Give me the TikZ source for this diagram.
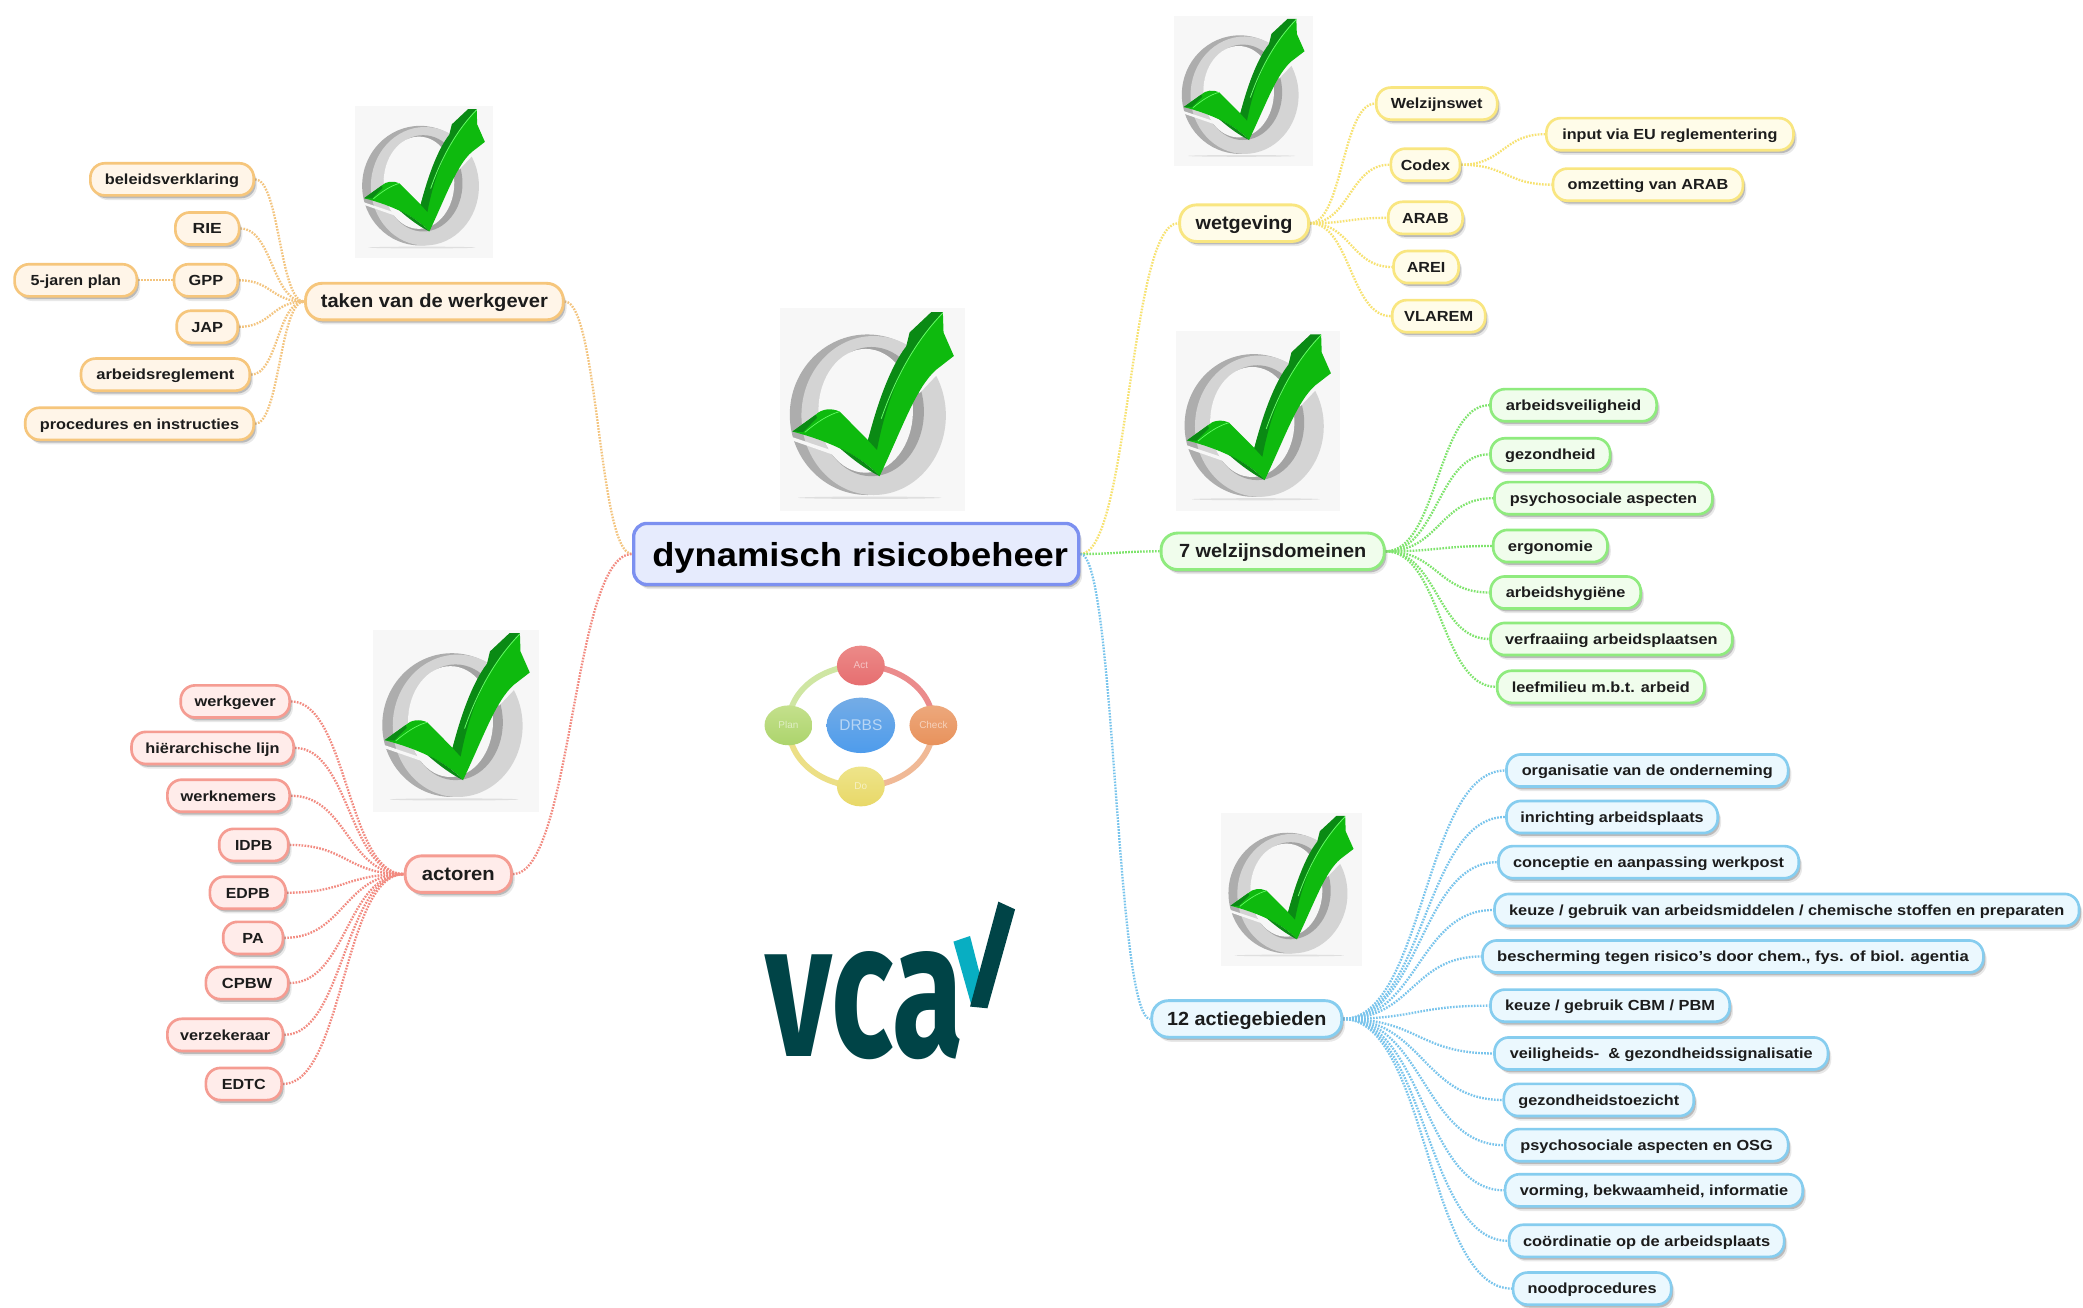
\documentclass[tikz,border=0pt]{standalone}
\usepackage{fontspec}
\setmainfont{Liberation Sans}
\newfontfamily\vcafont{Fira Sans}
\usetikzlibrary{shadows,shapes.geometric,backgrounds,calc}
\definecolor{iconbg}{HTML}{F7F7F7}
\definecolor{chk}{HTML}{0EBA0E}
\definecolor{chkd}{HTML}{0A8A14}
\definecolor{inktxt}{HTML}{1C1C1C}
\definecolor{oS}{HTML}{F6C67C}\definecolor{oF}{HTML}{FFF5E8}\definecolor{oL}{HTML}{F3C47E}
\definecolor{rS}{HTML}{F59C92}\definecolor{rF}{HTML}{FFECEA}\definecolor{rL}{HTML}{F28A80}
\definecolor{yS}{HTML}{F9E680}\definecolor{yF}{HTML}{FFFCE9}\definecolor{yL}{HTML}{F7E270}
\definecolor{gS}{HTML}{8FEB7E}\definecolor{gF}{HTML}{F0FDEC}\definecolor{gL}{HTML}{7EE46C}
\definecolor{bS}{HTML}{86CDEF}\definecolor{bF}{HTML}{EBF8FE}\definecolor{bL}{HTML}{78C4EC}
\definecolor{cS}{HTML}{7C90F0}\definecolor{cF}{HTML}{E6EBFD}
\definecolor{vcad}{HTML}{004447}
\definecolor{vcac}{HTML}{08AEC2}
\definecolor{actT}{HTML}{EC8A88}\definecolor{actB}{HTML}{E66E70}
\definecolor{chkT}{HTML}{EDA87C}\definecolor{chkB}{HTML}{E8925C}
\definecolor{doT}{HTML}{EEE48A}\definecolor{doB}{HTML}{E8D868}
\definecolor{plaT}{HTML}{C4E08C}\definecolor{plaB}{HTML}{ACD46C}
\definecolor{drbT}{HTML}{74ACE6}\definecolor{drbB}{HTML}{4E9CEC}
\tikzset{
  softshadow/.style={
    drop shadow={shadow xshift=1.5pt,shadow yshift=-2.1pt,fill=gray,opacity=.18},
    drop shadow={shadow xshift=.9pt,shadow yshift=-1.3pt,fill=gray!80!black,opacity=.35}},
  mapbox/.style={rounded corners=6.5pt,draw,line width=1.2pt,inner sep=0pt,minimum height=14.5pt,
    text height=5.4pt,text depth=.6pt,text=inktxt,font=\fontsize{6.6}{8}\selectfont\bfseries,softshadow},
  topbox/.style={mapbox,minimum height=16.5pt,rounded corners=7.5pt,line width=1.3pt,
    text height=7pt,text depth=1.2pt,font=\fontsize{8.6}{10}\selectfont\bfseries},
  obox/.style={mapbox,draw=oS,fill=oF}, otop/.style={topbox,draw=oS,fill=oF},
  rbox/.style={mapbox,draw=rS,fill=rF}, rtop/.style={topbox,draw=rS,fill=rF},
  ybox/.style={mapbox,draw=yS,fill=yF}, ytop/.style={topbox,draw=yS,fill=yF},
  gbox/.style={mapbox,draw=gS,fill=gF}, gtop/.style={topbox,draw=gS,fill=gF},
  bbox/.style={mapbox,draw=bS,fill=bF}, btop/.style={topbox,draw=bS,fill=bF},
  lk/.style={line width=1.05pt,dash pattern=on .75pt off .6pt},
  cbox/.style={rounded corners=6pt,draw=cS,fill=cF,line width=1.5pt,inner sep=0pt,minimum height=27.6pt,
    text height=12pt,text depth=.6pt,text=black,font=\fontsize{15}{18}\selectfont\bfseries,softshadow},
  ball/.style={ellipse,inner sep=0pt,minimum width=21.6pt,minimum height=18pt,text=white,text opacity=.55,font=\fontsize{4.5}{5}\selectfont},
  ringarc/.style={line width=2.6pt,opacity=.8},
  okicon/.pic={
    \begin{scope}[shift={(-120,-68)}]
      \fill[iconbg] (120,68) rectangle (675,587);
      \fill[gray!25] (390,552) ellipse [x radius=215,y radius=3];
      \fill[black!32] (383,340) ellipse [x radius=233,y radius=205];
      \fill[black!17] (402,342) ellipse [x radius=217,y radius=203];
      \fill[black!36] (395,332) ellipse [x radius=158,y radius=165];
      \fill[iconbg] (378,330) ellipse [x radius=142,y radius=158];
      \fill[iconbg] (505,165) -- (505,120) -- (660,120) -- (660,240) -- (590,240) -- (540,285) -- (490,200) -- cycle;
      \fill[iconbg] (150,395) -- (300,438) -- (300,448) -- (155,405) -- cycle;
      \fill[chk] (158,383) -- (228,340) .. controls (245,325) and (275,322) .. (300,332) -- (385,405)
        .. controls (420,300) and (470,200) .. (610,78) -- (612,130) -- (643,190) -- (590,225)
        .. controls (530,270) and (490,370) .. (420,497) .. controls (370,450) and (280,410) .. (158,383) -- cycle;
      \fill[chkd] (385,405) .. controls (410,320) and (450,220) .. (500,165) -- (510,130) -- (575,78) -- (610,78)
        .. controls (520,160) and (450,260) .. (412,430) -- cycle;
      \fill[chkd] (158,383) -- (228,340) -- (232,348) -- (190,384) -- cycle;
      \fill[chkd] (300,425) .. controls (350,445) and (390,470) .. (420,497) .. controls (380,480) and (340,455) .. (300,425) -- cycle;
      \draw[green!60!white,line width=.35pt] (610,80) .. controls (530,150) and (470,240) .. (425,350);
      \draw[green!60!white,line width=.3pt] (195,385) .. controls (230,360) and (265,340) .. (300,332);
    \end{scope}
  }
}
\newcommand\mapnode[7]{%
  \pgfmathsetlengthmacro\mapw{(#6)*0.6pt}%
  \node[#1,minimum width={(#4-#3)*0.6pt}] (#2) at ({(#3+#4)/2},#5) {\resizebox{\mapw}{\height}{#7}};}
\newcommand\hcurve[3]{\draw[lk,#1] let \p1=(#2),\p2=(#3),\p3=($(\p1)!.5!(\p2)$) in (\p1) .. controls (\x3,\y1) and (\x3,\y2) .. (\p2);}
\begin{document}
\begin{tikzpicture}[x=0.6pt,y=-0.6pt]
\useasboundingbox (0,0) rectangle (1568,984);

% check-mark pictures
\pic[xscale=.2505,yscale=.2948] at (587,232) {okicon};
\pic[xscale=.1874,yscale=.2197] at (267,80) {okicon};
\pic[xscale=.2252,yscale=.264] at (281,474) {okicon};
\pic[xscale=.1874,yscale=.2177] at (884,12) {okicon};
\pic[xscale=.2234,yscale=.262] at (885,249) {okicon};
\pic[xscale=.191,yscale=.2216] at (919,612) {okicon};

% centre
\node[cbox,minimum width=201pt] (root) at (644.5,417) {\hspace*{3.6pt}\resizebox{187.8pt}{\height}{dynamisch risicobeheer}};

% orange
\mapnode{otop}{taken}{230}{424}{227}{171}{taken van de werkgever}
\mapnode{obox}{bel}{68}{191}{135}{101}{beleidsverklaring}
\mapnode{obox}{rie}{132}{180}{172}{22}{RIE}
\mapnode{obox}{jaren}{11}{103}{211}{68}{5-jaren plan}
\mapnode{obox}{gpp}{131}{179}{211}{26}{GPP}
\mapnode{obox}{jap}{133}{179}{246}{24}{JAP}
\mapnode{obox}{arbr}{61}{188}{282}{104}{arbeidsreglement}
\mapnode{obox}{proc}{19}{191}{319}{150}{procedures en instructies}

% red
\mapnode{rtop}{act}{305}{385}{658}{55}{actoren}
\mapnode{rbox}{wg}{136}{218}{528}{61}{werkgever}
\mapnode{rbox}{hl}{99}{221}{563}{101}{hiërarchische lijn}
\mapnode{rbox}{wn}{126}{218}{599}{72}{werknemers}
\mapnode{rbox}{idpb}{165}{217}{636}{28}{IDPB}
\mapnode{rbox}{edpb}{158}{215}{672}{33}{EDPB}
\mapnode{rbox}{pa}{168}{213}{706}{16}{PA}
\mapnode{rbox}{cpbw}{155}{217}{740}{38}{CPBW}
\mapnode{rbox}{verz}{126}{213}{779}{68}{verzekeraar}
\mapnode{rbox}{edtc}{155}{212}{816}{33}{EDTC}

% yellow
\mapnode{ytop}{wet}{888}{985}{168}{73}{wetgeving}
\mapnode{ybox}{welz}{1036}{1127}{78}{69}{Welzijnswet}
\mapnode{ybox}{codex}{1047}{1099}{124}{37}{Codex}
\mapnode{ybox}{input}{1164}{1350}{101}{162}{input via EU reglementering}
\mapnode{ybox}{omz}{1169}{1312}{139}{121}{omzetting van ARAB}
\mapnode{ybox}{arab}{1045}{1101}{164}{35}{ARAB}
\mapnode{ybox}{arei}{1049}{1098}{201}{29}{AREI}
\mapnode{ybox}{vlarem}{1048}{1118}{238}{52}{VLAREM}

% green
\mapnode{gtop}{dom}{874}{1042}{415}{141}{7 welzijnsdomeinen}
\mapnode{gbox}{g1}{1122}{1247}{305}{102}{arbeidsveiligheid}
\mapnode{gbox}{g2}{1122}{1212}{342}{68}{gezondheid}
\mapnode{gbox}{g3}{1125}{1289}{375}{141}{psychosociale aspecten}
\mapnode{gbox}{g4}{1124}{1210}{411}{64}{ergonomie}
\mapnode{gbox}{g5}{1122}{1235}{446}{90}{arbeidshygiëne}
\mapnode{gbox}{g6}{1122}{1304}{481}{160}{verfraaiing arbeidsplaatsen}
\mapnode{gbox}{g7}{1127}{1283}{517}{134}{leefmilieu m.b.t. arbeid}

% blue
\mapnode{btop}{gebied}{867}{1010}{767}{120}{12 actiegebieden}
\mapnode{bbox}{b1}{1134}{1346}{580}{189}{organisatie van de onderneming}
\mapnode{bbox}{b2}{1134}{1293}{615}{138}{inrichting arbeidsplaats}
\mapnode{bbox}{b3}{1128}{1354}{649}{204}{conceptie en aanpassing werkpost}
\mapnode{bbox}{b4}{1125}{1565}{685}{418}{keuze / gebruik van arbeidsmiddelen / chemische stoffen en preparaten}
\mapnode{bbox}{b5}{1116}{1493}{720}{355}{bescherming tegen risico's door chem., fys. of biol. agentia}
\mapnode{bbox}{b6}{1122}{1302}{757}{158}{keuze / gebruik CBM / PBM}
\mapnode{bbox}{b7}{1125}{1376}{793}{228}{veiligheids-~ \& gezondheidssignalisatie}
\mapnode{bbox}{b8}{1132}{1275}{828}{121}{gezondheidstoezicht}
\mapnode{bbox}{b9}{1133}{1346}{862}{190}{psychosociale aspecten en OSG}
\mapnode{bbox}{b10}{1133}{1357}{896}{202}{vorming, bekwaamheid, informatie}
\mapnode{bbox}{b11}{1136}{1343}{934}{186}{coördinatie op de arbeidsplaats}
\mapnode{bbox}{b12}{1139}{1258}{970}{97}{noodprocedures}

% PDCA cycle
\node[ball,top color=actT,bottom color=actB] (pact) at (648,501) {Act};
\node[ball,top color=chkT,bottom color=chkB] (pcheck) at (702.6,546) {Check};
\node[ball,top color=doT,bottom color=doB] (pdo) at (648,592) {Do};
\node[ball,top color=plaT,bottom color=plaB] (pplan) at (593.5,546) {Plan};
\node[ellipse,inner sep=0pt,minimum width=31pt,minimum height=25pt,top color=drbT,bottom color=drbB,
  text=white,text opacity=.55,font=\fontsize{7}{8}\selectfont] (pdrbs) at (648,546) {DRBS};

% VCA logo
\node[inner sep=0pt,text=vcad,font=\vcafont\bfseries] (vca) at (651,757) {\resizebox{89.4pt}{47.4pt}{vca}};
\fill[vcac] (717.7,708.8) -- (730.2,704.6) -- (738,735) -- (731.5,757.7) -- cycle;
\fill[vcad] (751.5,678.7) -- (764.1,684.5) -- (743.3,759) -- (730.2,757.7) -- cycle;

% connectors
\begin{pgfonlayer}{background}
\fill[white] (0,0) rectangle (1568,984);
\foreach \c in {bel,rie,gpp,jap,arbr,proc} {\hcurve{oL}{\c.east}{taken.west}}
\draw[lk,oL] (jaren.east) -- (gpp.west);
\hcurve{oL}{taken.east}{root.west}
\foreach \c in {wg,hl,wn,idpb,edpb,pa,cpbw,verz,edtc} {\hcurve{rL}{\c.east}{act.west}}
\hcurve{rL}{act.east}{root.west}
\foreach \c in {welz,codex,arab,arei,vlarem} {\hcurve{yL}{wet.east}{\c.west}}
\foreach \c in {input,omz} {\hcurve{yL}{codex.east}{\c.west}}
\hcurve{yL}{root.east}{wet.west}
\foreach \c in {g1,g2,g3,g4,g5,g6,g7} {\hcurve{gL}{dom.east}{\c.west}}
\hcurve{gL}{root.east}{dom.west}
\foreach \c in {b1,b2,b3,b4,b5,b6,b7,b8,b9,b10,b11,b12} {\hcurve{bL}{gebied.east}{\c.west}}
\hcurve{bL}{root.east}{gebied.west}
\draw[ringarc,actB] (pact.center) to[out=0,in=90] (pcheck.center);
\draw[ringarc,chkT] (pcheck.center) to[out=-90,in=0] (pdo.center);
\draw[ringarc,doB] (pdo.center) to[out=180,in=-90] (pplan.center);
\draw[ringarc,plaT] (pplan.center) to[out=90,in=180] (pact.center);
\end{pgfonlayer}
\end{tikzpicture}
\end{document}
